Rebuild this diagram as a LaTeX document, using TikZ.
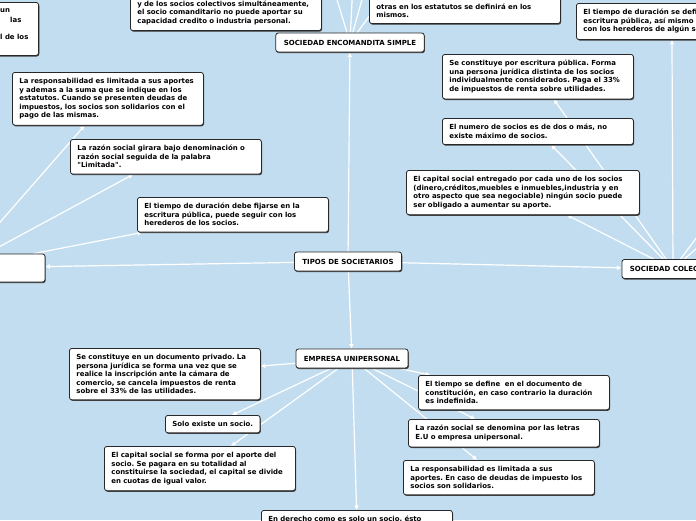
\documentclass[tikz,border=0pt]{standalone}
\usepackage{fontspec}
\setmainfont{DejaVu Sans}
\usetikzlibrary{arrows.meta,shadows,backgrounds}
\frenchspacing

\definecolor{fondo}{RGB}{194,221,240}
\definecolor{borde}{RGB}{40,40,40}

\tikzset{
  rama/.style={draw=borde, fill=white, line width=0.8pt, rounded corners=2.5pt,
    drop shadow={shadow xshift=0.7pt, shadow yshift=-1.1pt, fill=black!75, opacity=1}},
  tema/.style={rama, font=\fontsize{7}{8.5}\selectfont\bfseries, minimum height=19pt, inner xsep=8pt},
  caja/.style={rama, font=\fontsize{6.95}{8.5}\selectfont\bfseries, inner xsep=7pt, inner ysep=6pt},
  nota/.style={caja, text width=177pt, align=left},
  trozo/.style={font=\fontsize{6.95}{8.5}\selectfont\bfseries, inner sep=0pt},
  enlace/.style={white, line width=1.2pt}
}

\begin{document}
\begin{tikzpicture}[x=1pt,y=-1pt,>={Latex[length=4.5pt,width=5pt]}]

\begin{pgfonlayer}{background}
\fill[fondo] (0,0) rectangle (696,520);
\end{pgfonlayer}
\useasboundingbox (0,0) rectangle (696,520);

\node[tema] (tipos) at (348,261.5) {TIPOS DE SOCIETARIOS};
\node[tema] (encomandita) at (350,42.5) {SOCIEDAD ENCOMANDITA SIMPLE};
\node[tema] (colectiva) at (673,269) {SOCIEDAD COLECTIVA};
\node[tema] (unipersonal) at (352,358.5) {EMPRESA UNIPERSONAL};
\node[rama, minimum width=170pt, minimum height=28pt] (limitada) at (-40,268) {};

\node[nota, anchor=north west] (limResp) at (12,72)
{La responsabilidad es limitada a sus aportes\\ y ademas a la suma que se indique en los\\ estatutos. Cuando se presenten deudas de\\ impuestos, los socios son solidarios con el\\ pago de las mismas.};

\node[nota, anchor=north west] (limRazon) at (70,139)
{La razón social girara bajo denominación o\\ razón social seguida de la palabra\\ \textquotedbl Limitada\textquotedbl.};

\node[nota, anchor=north west] (limTiempo) at (137,197)
{El tiempo de duración debe fijarse en la\\ escritura pública, puede seguir con los\\ herederos de los socios.};

\node[nota, anchor=north east, minimum height=53pt] (limOtra) at (39,2) {};
\node[trozo, anchor=base west] (limOtraA) at (0,12.5) {un};
\node[trozo, anchor=base west] (limOtraB) at (10,22) {las};
\node[trozo, anchor=base west] (limOtraC) at (0,39.5) {l de los};

\node[nota, anchor=south west, text height=40pt] (encSocios) at (130,31)
{y de los socios colectivos simultáneamente,\\ el socio comanditario no puede aportar su\\ capacidad credito o industria personal.};

\node[nota, anchor=south west, text height=30pt] (encReserva) at (369,24)
{otras en los estatutos se definirá en los\\ mismos.};

\node[nota, anchor=north west] (colEscritura) at (442,54)
{Se constituye por escritura pública. Forma\\ una persona jurídica distinta de los socios\\ individualmente considerados. Paga el 33\%\\ de impuestos de renta sobre utilidades.};

\node[nota, anchor=north west] (colSocios) at (442,118)
{El numero de socios es de dos o más, no\\ existe máximo de socios.};

\node[nota, anchor=north west, text width=219pt] (colCapital) at (406,170)
{El capital social entregado por cada uno de los socios\\ (dinero,créditos,muebles e inmuebles,industria y en\\ otro aspecto que sea negociable) ningún socio puede\\ ser obligado a aumentar su aporte.};

\node[nota, anchor=north west] (colTiempo) at (576,3)
{El tiempo de duración se define en la\\ escritura pública, así mismo puede seguir\\ con los herederos de algún socio.};

\node[nota, anchor=north west] (uniPrivado) at (69,348)
{Se constituye en un documento privado. La\\ persona jurídica se forma una vez que se\\ realice la inscripción ante la cámara de\\ comercio, se cancela impuestos de renta\\ sobre el 33\% de las utilidades.};

\node[caja, anchor=north west] (uniSocio) at (165,415) {Solo existe un socio.};

\node[nota, anchor=north west] (uniCapital) at (104,446)
{El capital social se forma por el aporte del\\ socio. Se pagara en su totalidad al\\ constituirse la sociedad, el capital se divide\\ en cuotas de igual valor.};

\node[nota, anchor=north west] (uniTiempo) at (418,375)
{El tiempo se define\ \ en el documento de\\ constitución, en caso contrario la duración\\ es indefinida.};

\node[nota, anchor=north west] (uniRazon) at (408,419)
{La razón social se denomina por las letras\\ E.U o empresa unipersonal.};

\node[nota, anchor=north west] (uniResp) at (403,460)
{La responsabilidad es limitada a sus\\ aportes. En caso de deudas de impuesto los\\ socios son solidarios.};

\node[nota, anchor=north west] (uniDerecho) at (261,510)
{En derecho como es solo un socio, ésto};

\coordinate (encArriba1) at (325,-40);
\coordinate (encArriba2) at (354,-40);
\coordinate (encArriba3) at (373,-40);
\coordinate (encArriba4) at (410,-40);
\coordinate (colDerecha1) at (760,193);
\coordinate (colDerecha2) at (730,193);

\begin{pgfonlayer}{background}
\draw[enlace,->] (tipos) -- (encomandita);
\draw[enlace,->] (tipos) -- (limitada);
\draw[enlace,->] (tipos) -- (colectiva);
\draw[enlace,->] (tipos) -- (unipersonal);

\draw[enlace,->] (limitada) -- (limResp);
\draw[enlace,->] (limitada) -- (limRazon);
\draw[enlace,->] (limitada) -- (limTiempo);

\draw[enlace] (encomandita) -- (encArriba1);
\draw[enlace] (encomandita) -- (encArriba2);
\draw[enlace] (encomandita) -- (encArriba3);
\draw[enlace] (encomandita) -- (encArriba4);

\draw[enlace,->] (colectiva) -- (colEscritura);
\draw[enlace,->] (colectiva) -- (colSocios);
\draw[enlace,->] (colectiva) -- (colCapital);
\draw[enlace,->] (colectiva) -- (colTiempo);
\draw[enlace] (colectiva) -- (colDerecha1);
\draw[enlace] (colectiva) -- (colDerecha2);

\draw[enlace,->] (unipersonal) -- (uniPrivado);
\draw[enlace,->] (unipersonal) -- (uniSocio);
\draw[enlace,->] (unipersonal) -- (uniCapital);
\draw[enlace,->] (unipersonal) -- (uniTiempo);
\draw[enlace,->] (unipersonal) -- (uniRazon);
\draw[enlace,->] (unipersonal) -- (uniResp);
\draw[enlace,->] (unipersonal) -- (uniDerecho);
\end{pgfonlayer}

\end{tikzpicture}
\end{document}
